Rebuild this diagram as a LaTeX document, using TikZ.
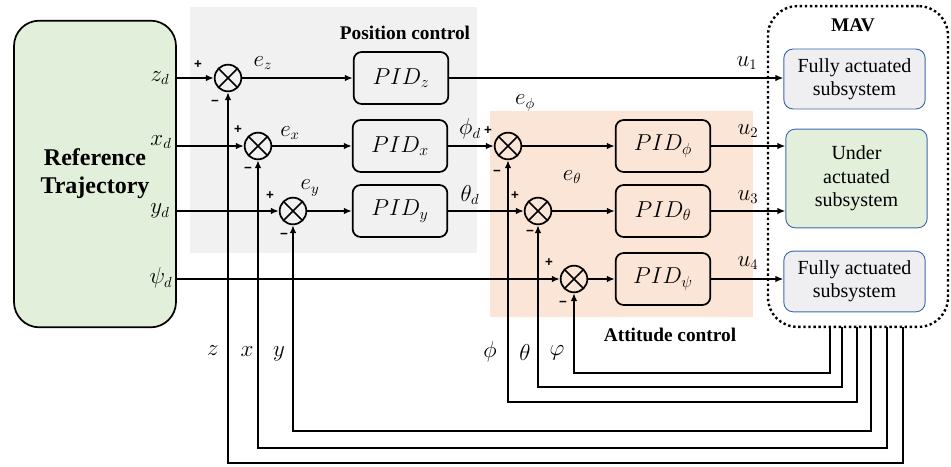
\documentclass[tikz,border=0pt]{standalone}
\usepackage{fontspec}
\setmainfont{Liberation Serif}
\newfontfamily\signfont{Liberation Sans}
\usetikzlibrary{arrows.meta,calc}

\definecolor{refgreen}{HTML}{E2EFDA}
\definecolor{posgray}{HTML}{F1F1F1}
\definecolor{attpeach}{HTML}{FBE5D6}
\definecolor{subgray}{HTML}{EFEFF1}
\definecolor{subblue}{HTML}{3C68B0}

\tikzset{
  sig/.style={line width=1.3pt, -{Latex[length=6pt,width=5pt]}},
  sumnode/.style={circle, draw, line width=1.3pt, minimum size=20pt, inner sep=0pt,
    path picture={\draw[line width=1.3pt]
      (path picture bounding box.north west) -- (path picture bounding box.south east)
      (path picture bounding box.north east) -- (path picture bounding box.south west);}},
  pidbox/.style={draw, line width=1.3pt, rounded corners=6pt, minimum width=71pt,
    minimum height=39pt, inner sep=0pt, font=\fontsize{16.5}{19}\selectfont},
  subbox/.style={draw=subblue, line width=0.7pt, rounded corners=7pt, minimum width=106pt,
    inner sep=0pt, align=center, font=\rmfamily\fontsize{15}{17.5}\selectfont},
  lbl/.style={font=\fontsize{16}{19}\selectfont, inner sep=0pt},
  sgn/.style={font=\signfont\bfseries\fontsize{10}{12}\selectfont, inner sep=0pt},
  title/.style={font=\rmfamily\bfseries\fontsize{14.5}{17}\selectfont, inner sep=0pt}
}

\begin{document}
\begin{tikzpicture}[x=0.75pt, y=-0.75pt]
\useasboundingbox (0,0) rectangle (951,467);

% controller backgrounds
\fill[posgray] (190,7) rectangle (477,253);
\fill[attpeach] (490,111) rectangle (753,317);
\node[title] (postitle) at (405,33) {Position control};
\node[title] (atttitle) at (670,335) {Attitude control};

% reference trajectory generator
\node[draw, line width=1.3pt, fill=refgreen, rounded corners=19pt, minimum width=121.5pt,
  minimum height=230pt, align=center, font=\rmfamily\bfseries\fontsize{18}{21}\selectfont]
  (ref) at (95,174) {Reference\\Trajectory};

% vehicle
\node[draw, dotted, line width=1.8pt, rounded corners=22pt, minimum width=135pt,
  minimum height=240.5pt] (mav) at (858,166.5) {};
\node[title] (mavtitle) at (853,25) {MAV};
\node[subbox, fill=subgray, minimum height=45pt] (fa1) at (854.5,79) {Fully actuated\\subsystem};
\node[subbox, fill=refgreen, minimum height=74pt] (ua) at (856.5,178.5) {Under\\actuated\\subsystem};
\node[subbox, fill=subgray, minimum height=45.5pt] (fa2) at (854.5,281.5) {Fully actuated\\subsystem};

% summing junctions
\node[sumnode] (sz) at (228,78) {};
\node[sumnode] (sx) at (258,146) {};
\node[sumnode] (sy) at (293,211) {};
\node[sumnode] (sphi) at (508,146) {};
\node[sumnode] (sth) at (538,211) {};
\node[sumnode] (spsi) at (574,279) {};

% controllers
\node[pidbox] (pidz) at (401,78) {$PID_z$};
\node[pidbox] (pidx) at (400,146) {$PID_x$};
\node[pidbox] (pidy) at (400,211) {$PID_y$};
\node[pidbox] (pidphi) at (663,146) {$PID_\phi$};
\node[pidbox] (pidth) at (663,211) {$PID_\theta$};
\node[pidbox] (pidpsi) at (663,279) {$PID_\psi$};

% reference outputs
\coordinate (zd) at (176,78);
\coordinate (xd) at (176,146);
\coordinate (yd) at (176,211);
\coordinate (psid) at (176,279);
\node[lbl] (lzd) at (160,78) {$z_d$};
\node[lbl] (lxd) at (161,142) {$x_d$};
\node[lbl] (lyd) at (160,211) {$y_d$};
\node[lbl] (lpsid) at (161,278) {$\psi_d$};

% forward paths
\draw[sig] (zd) -- (sz.west);
\draw[sig] (xd) -- (sx.west);
\draw[sig] (yd) -- (sy.west);
\draw[sig] (psid) -- (spsi.west);
\draw[sig] (sz.east) -- (pidz.west);
\draw[sig] (sx.east) -- (pidx.west);
\draw[sig] (sy.east) -- (pidy.west);
\draw[sig] (pidx.east) -- (sphi.west);
\draw[sig] (pidy.east) -- (sth.west);
\draw[sig] (sphi.east) -- (pidphi.west);
\draw[sig] (sth.east) -- (pidth.west);
\draw[sig] (spsi.east) -- (pidpsi.west);
\draw[sig] (pidz.east) -- (pidz.east -| fa1.west);
\draw[sig] (pidphi.east) -- (pidphi.east -| ua.west);
\draw[sig] (pidth.east) -- (pidth.east -| ua.west);
\draw[sig] (pidpsi.east) -- (pidpsi.east -| fa2.west);

% signal labels
\node[lbl] (lez) at (263,63) {$e_z$};
\node[lbl] (lex) at (290,133) {$e_x$};
\node[lbl] (ley) at (310,188) {$e_y$};
\node[lbl] (lephi) at (525,103) {$e_\phi$};
\node[lbl] (leth) at (572,177) {$e_\theta$};
\node[lbl] (lphid) at (470,129) {$\phi_d$};
\node[lbl] (lthd) at (470,195) {$\theta_d$};
\node[lbl] (lu1) at (747,63) {$u_1$};
\node[lbl] (lu2) at (748,131) {$u_2$};
\node[lbl] (lu3) at (748,197) {$u_3$};
\node[lbl] (lu4) at (748,263) {$u_4$};

% signs at the junctions
\node[sgn] at (198,65) {+};
\node[sgn] at (215,103) {\textminus};
\node[sgn] at (238,130) {+};
\node[sgn] at (248,170) {\textminus};
\node[sgn] at (270,196) {+};
\node[sgn] at (284,236) {\textminus};
\node[sgn] at (488,131) {+};
\node[sgn] at (497,173) {\textminus};
\node[sgn] at (515,196) {+};
\node[sgn] at (530,233) {\textminus};
\node[sgn] at (549,263) {+};
\node[sgn] at (563,304) {\textminus};

% feedback taps on the vehicle
\coordinate (fbpsi) at (830,327);
\coordinate (fbth) at (842,327);
\coordinate (fbphi) at (857,327);
\coordinate (fby) at (871,327);
\coordinate (fbx) at (887,327);
\coordinate (fbz) at (903,327);

% feedback paths
\draw[sig] (fbpsi) -- (830,373) -| (spsi.south);
\draw[sig] (fbth) -- (842,387) -| (sth.south);
\draw[sig] (fbphi) -- (857,402) -| (sphi.south);
\draw[sig] (fby) -- (871,431) -| (sy.south);
\draw[sig] (fbx) -- (887,448) -| (sx.south);
\draw[sig] (fbz) -- (903,463) -| (sz.south);

% feedback labels
\node[lbl] (lz) at (213,351) {$z$};
\node[lbl] (lx) at (247,352) {$x$};
\node[lbl] (ly) at (279,354) {$y$};
\node[lbl] (lphi) at (490,352) {$\phi$};
\node[lbl] (lth) at (525,352) {$\theta$};
\node[lbl] (lvphi) at (557,353) {$\varphi$};
\end{tikzpicture}
\end{document}
